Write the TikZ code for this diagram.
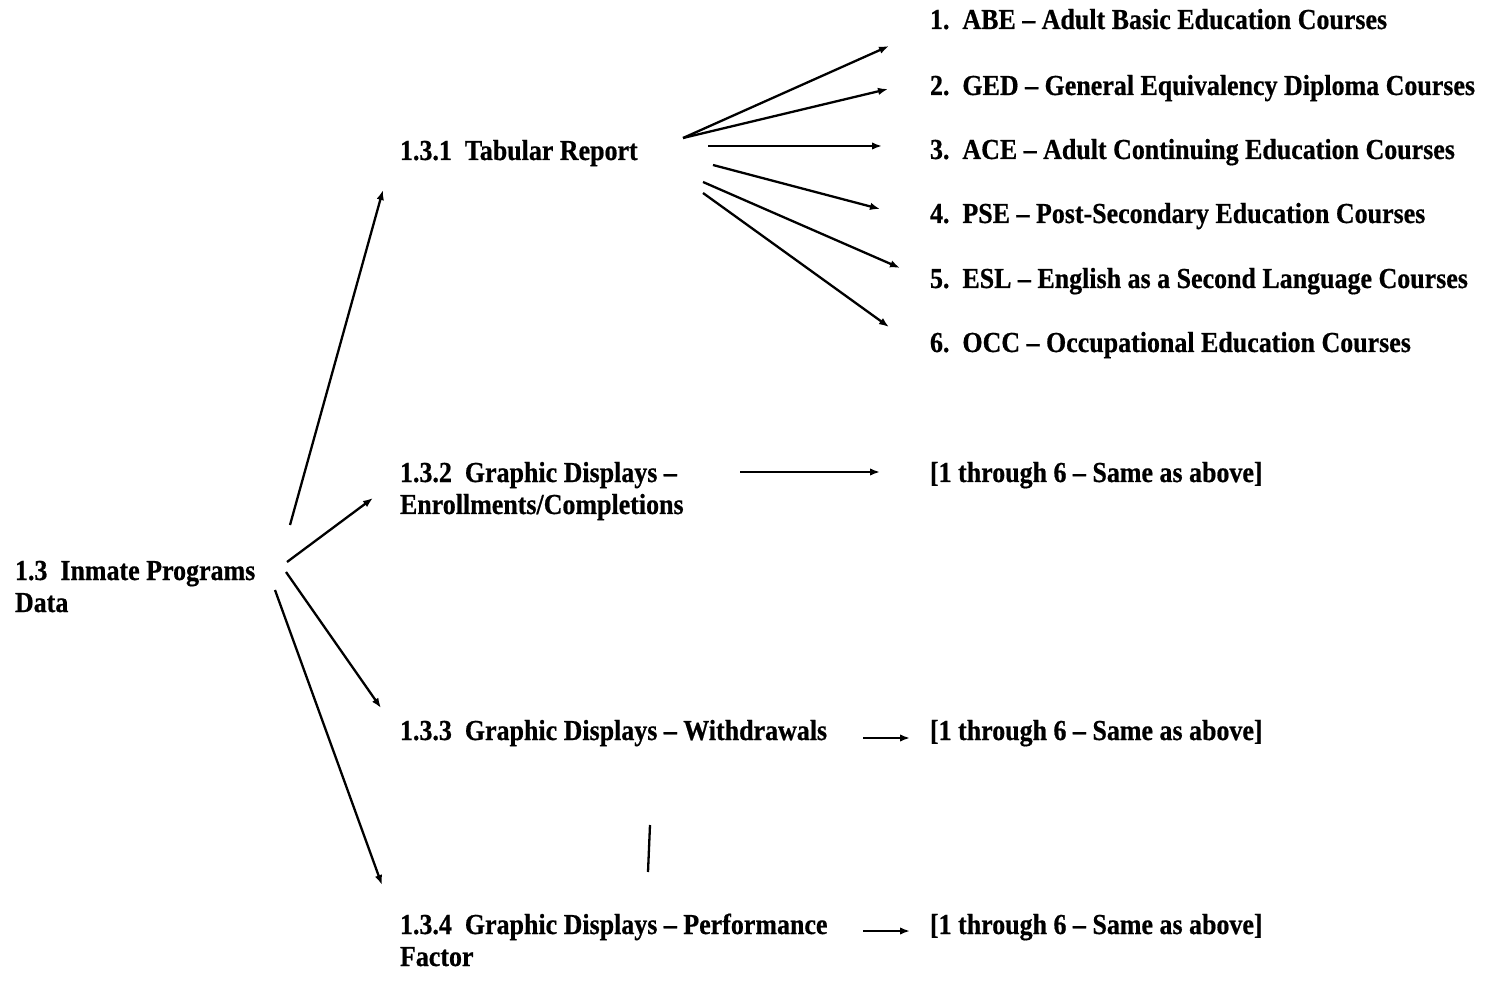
\documentclass[tikz,border=0pt]{standalone}
\usepackage{fontspec}
\setmainfont{Liberation Serif}[FakeStretch=0.895,FakeBold=0.6]
\usetikzlibrary{arrows.meta}
\tikzset{
  lbl/.style={anchor=base west, inner sep=0pt, outer sep=0pt, align=left,
    font=\fontsize{29}{32}\selectfont\bfseries},
  arr/.style={line width=2.3pt, -{Latex[length=10pt,width=7.5pt]}},
  stray/.style={line width=2.3pt}
}
\begin{document}
\begin{tikzpicture}[x=1pt,y=-1pt]
\useasboundingbox (0,0) rectangle (1500,981);
% nodes (base anchor = baseline of the last line)
\node[lbl] (inm) at (15,612) {1.3\ \ Inmate Programs\\Data};
\node[lbl] (tab) at (400,160) {1.3.1\ \ Tabular Report};
\node[lbl] (enr) at (400,514) {1.3.2\ \ Graphic Displays --\\Enrollments/Completions};
\node[lbl] (wd) at (400,740) {1.3.3\ \ Graphic Displays -- Withdrawals};
\node[lbl] (pf) at (400,966) {1.3.4\ \ Graphic Displays -- Performance\\Factor};
\node[lbl] (i1) at (930,29) {1.\ \ ABE -- Adult Basic Education Courses};
\node[lbl] (i2) at (930,95) {2.\ \ GED -- General Equivalency Diploma Courses};
\node[lbl] (i3) at (930,159) {3.\ \ ACE -- Adult Continuing Education Courses};
\node[lbl] (i4) at (930,223) {4.\ \ PSE -- Post-Secondary Education Courses};
\node[lbl] (i5) at (930,288) {5.\ \ ESL -- English as a Second Language Courses};
\node[lbl] (i6) at (930,352) {6.\ \ OCC -- Occupational Education Courses};
\node[lbl] (s2) at (930,482) {[1 through 6 -- Same as above]};
\node[lbl] (s3) at (930,740) {[1 through 6 -- Same as above]};
\node[lbl] (s4) at (930,934) {[1 through 6 -- Same as above]};
% connector ends
\coordinate (inmA) at (290,525); \coordinate (tabIn) at (383,190);
\coordinate (inmB) at (287,562); \coordinate (enrIn) at (373,498);
\coordinate (inmC) at (286,572); \coordinate (wdIn) at (381,708);
\coordinate (inmD) at (275,590); \coordinate (pfIn) at (382,885);
\coordinate (tabA) at (683,138);
\coordinate (tabC) at (708,146);
\coordinate (tabD) at (713,165);
\coordinate (tabE) at (703,182);
\coordinate (tabF) at (703,193);
\coordinate (i1In) at (889,46);
\coordinate (i2In) at (888,89);
\coordinate (i3In) at (882,146);
\coordinate (i4In) at (880,209);
\coordinate (i5In) at (900,268);
\coordinate (i6In) at (889,327);
\coordinate (enrOut) at (740,472); \coordinate (s2In) at (880,472);
\coordinate (wdOut) at (863,738); \coordinate (s3In) at (910,738);
\coordinate (pfOut) at (863,931); \coordinate (s4In) at (910,931);
% connectors
\draw[arr] (inmA) -- (tabIn);
\draw[arr] (inmB) -- (enrIn);
\draw[arr] (inmC) -- (wdIn);
\draw[arr] (inmD) -- (pfIn);
\draw[arr] (tabA) -- (i1In);
\draw[arr] (tabA) -- (i2In);
\draw[arr] (tabC) -- (i3In);
\draw[arr] (tabD) -- (i4In);
\draw[arr] (tabE) -- (i5In);
\draw[arr] (tabF) -- (i6In);
\draw[arr] (enrOut) -- (s2In);
\draw[arr] (wdOut) -- (s3In);
\draw[arr] (pfOut) -- (s4In);
% stray mark
\coordinate (m1) at (650,825); \coordinate (m2) at (648,872);
\draw[stray] (m1) -- (m2);
\end{tikzpicture}
\end{document}
